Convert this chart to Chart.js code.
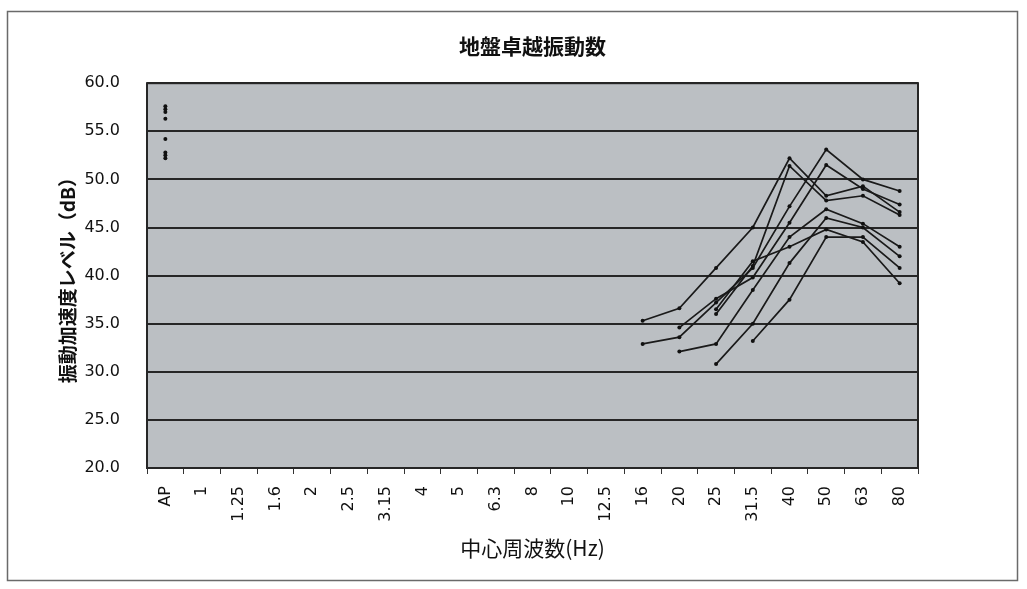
<!DOCTYPE html>
<html>
<head>
<meta charset="utf-8">
<script src="https://cdn.jsdelivr.net/npm/chart.js@4/dist/chart.umd.min.js"></script>
<style>
  html, body { margin: 0; padding: 0; background: #ffffff; }
  #wrap { position: relative; width: 1027px; height: 589px; }
  canvas { display: block; }
</style>
</head>
<body>
<div id="wrap"><canvas id="c" width="1027" height="589"></canvas></div>
<script>
// Centre frequencies (Hz); "AP" is the ambient point at the far left
const categories = ['AP', '1', '1.25', '1.6', '2', '2.5', '3.15', '4', '5', '6.3', '8', '10', '12.5', '16', '20', '25', '31.5', '40', '50', '63', '80'];
const yMin = 20;
const yMax = 60;
const yStep = 5;

// Vibration acceleration level (dB) per measurement point
//            AP    1     1.25  1.6   2     2.5   3.15  4     5     6.3   8     10    12.5  16    20    25    31.5  40    50    63    80
const run1 = [57.6, null, null, null, null, null, null, null, null, null, null, null, null, 35.3, 36.6, 40.8, 45.0, 52.2, 48.3, 49.3, 46.6];
const run2 = [57.3, null, null, null, null, null, null, null, null, null, null, null, null, 32.9, 33.6, 37.2, 40.8, 47.2, 53.1, 50.0, 48.8];
const run3 = [56.3, null, null, null, null, null, null, null, null, null, null, null, null, null, 34.6, 37.6, 39.8, 45.5, 51.5, 49.0, 47.4];
const run4 = [54.2, null, null, null, null, null, null, null, null, null, null, null, null, null, 32.1, 32.9, 38.5, 44.0, 46.9, 45.4, 43.0];
const run5 = [52.8, null, null, null, null, null, null, null, null, null, null, null, null, null, null, 30.8, 35.0, 41.3, 46.0, 45.0, 42.0];
const run6 = [52.5, null, null, null, null, null, null, null, null, null, null, null, null, null, null, null, 33.2, 37.5, 44.0, 44.0, 40.8];
const run7 = [52.2, null, null, null, null, null, null, null, null, null, null, null, null, null, null, 36.5, 41.5, 43.0, 44.8, 43.5, 39.2];
const run8 = [57.0, null, null, null, null, null, null, null, null, null, null, null, null, null, null, 36.0, 41.0, 51.4, 47.8, 48.3, 46.3];

const runs = [run1, run2, run3, run4, run5, run6, run7, run8];

const numFont = "'DejaVu Sans', 'Liberation Sans', sans-serif";
const jpFont = "'Noto Sans CJK JP', 'Noto Sans', sans-serif";

// Grey plot background, outer frame and plot border
const plotFrame = {
  id: 'plotFrame',
  beforeDraw(chart) {
    const { ctx, chartArea: a } = chart;
    ctx.save();
    ctx.strokeStyle = '#6a6a6a';
    ctx.lineWidth = 1.5;
    ctx.strokeRect(7.5, 11.5, 1010, 569);
    ctx.fillStyle = '#bbbfc3';
    ctx.fillRect(a.left, a.top, a.right - a.left, a.bottom - a.top);
    ctx.restore();
  },
  afterDatasetsDraw(chart) {
    const { ctx, chartArea: a } = chart;
    ctx.save();
    ctx.strokeStyle = '#262626';
    ctx.lineWidth = 2;
    ctx.strokeRect(a.left, a.top, a.right - a.left, a.bottom - a.top);
    ctx.restore();
  }
};

new Chart(document.getElementById('c'), {
  type: 'line',
  data: {
    labels: categories,
    datasets: runs.map((values, i) => ({
      label: 'run' + (i + 1),
      data: values,
      borderColor: '#1a1a1a',
      borderWidth: 1.7,
      pointRadius: 2,
      pointBackgroundColor: '#111111',
      pointBorderWidth: 0,
      spanGaps: false,
      tension: 0
    }))
  },
  options: {
    responsive: false,
    animation: false,
    layout: { padding: { left: 0, right: 109, top: 0, bottom: 0 } },
    plugins: {
      legend: { display: false },
      tooltip: { enabled: false },
      title: {
        display: true,
        text: '地盤卓越振動数',
        fullSize: false,
        color: '#111111',
        font: { family: jpFont, size: 21, weight: 'bold' },
        padding: { top: 33, bottom: 25 }
      }
    },
    scales: {
      x: {
        type: 'category',
        offset: true,
        border: { display: false },
        grid: {
          display: true,
          offset: true,
          drawOnChartArea: false,
          drawTicks: true,
          tickLength: 6,
          color: '#333333'
        },
        ticks: {
          autoSkip: false,
          minRotation: 90,
          maxRotation: 90,
          padding: 12,
          color: '#111111',
          font: { family: numFont, size: 16 }
        },
        title: {
          display: true,
          text: '中心周波数(Hz)',
          color: '#111111',
          font: { family: jpFont, size: 21 },
          padding: { top: 0, bottom: 28 }
        },
        afterFit(scale) { scale.height = 121; }
      },
      y: {
        min: yMin,
        max: yMax,
        border: { display: false },
        grid: {
          color: '#262626',
          lineWidth: 2,
          drawTicks: false
        },
        ticks: {
          stepSize: yStep,
          padding: 27,
          color: '#111111',
          font: { family: numFont, size: 16 },
          callback: (v) => Number(v).toFixed(1)
        },
        title: {
          display: true,
          text: '振動加速度レベル（dB）',
          color: '#111111',
          font: { family: jpFont, size: 19, weight: 'bold' },
          padding: { top: 56, bottom: 0 }
        },
        afterFit(scale) { scale.width = 147; }
      }
    }
  },
  plugins: [plotFrame]
});
</script>
</body>
</html>
